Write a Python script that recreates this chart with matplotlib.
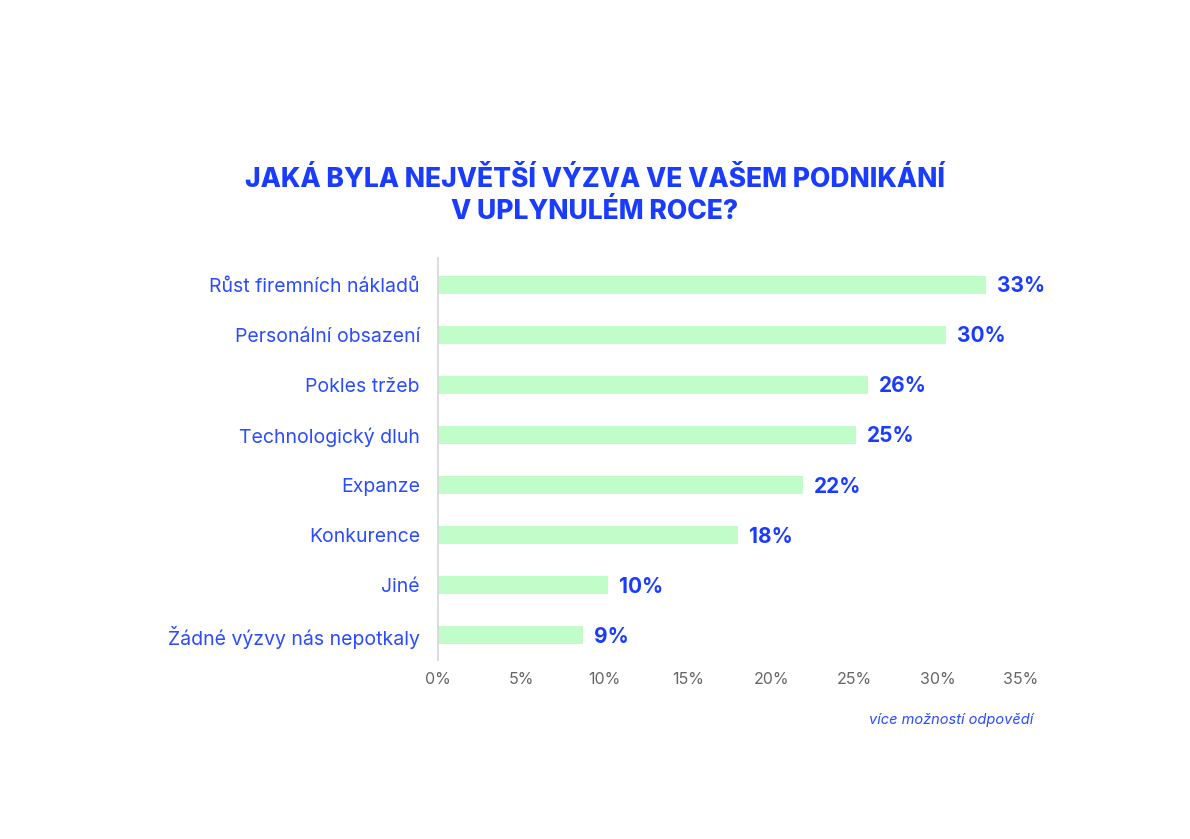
import matplotlib.pyplot as plt

plt.rcParams['font.family'] = ['Inter', 'DejaVu Sans']

categories = ["Růst firemních nákladů", "Personální obsazení", "Pokles tržeb",
              "Technologický dluh", "Expanze", "Konkurence", "Jiné",
              "Žádné výzvy nás nepotkaly"]
values = [32.9, 30.5, 25.8, 25.1, 21.9, 18.0, 10.2, 8.7]
value_labels = ["33%", "30%", "26%", "25%", "22%", "18%", "10%", "9%"]
ticks = [0, 5, 10, 15, 20, 25, 30, 35]

blue = "#1a3cff"
green = "#c0fdc8"

fig = plt.figure(figsize=(11.9, 8.39), dpi=100)
ax = fig.add_axes([438 / 1190, 1 - 660 / 839, (1021 - 438) / 1190, (660 - 258) / 839])

y = list(range(len(categories)))
ax.barh(y, values, height=0.36, color=green)
for yi, v, lab in zip(y, values, value_labels):
    ax.text(v + 0.65, yi + 0.03, lab, va='center', ha='left', color=blue,
            fontsize=15, fontweight='bold')

ax.set_ylim(7.5, -0.54)
ax.set_xlim(0, 35)
ax.set_yticks(y)
ax.set_yticklabels(categories, color="#2a4bff", fontsize=14)
ax.set_xticks(ticks)
ax.set_xticklabels([f"{t}%" for t in ticks], color="#666666", fontsize=11.5)
ax.tick_params(axis='both', length=0)
ax.tick_params(axis='y', pad=13)
ax.tick_params(axis='x', pad=9)
for s in ['top', 'right', 'bottom']:
    ax.spines[s].set_visible(False)
ax.spines['left'].set_color("#d6d6d6")
ax.spines['left'].set_linewidth(1.2)

fig.text(595 / 1190, 1 - 196 / 839, "JAKÁ BYLA NEJVĚTŠÍ VÝZVA VE VAŠEM PODNIKÁNÍ\nV UPLYNULÉM ROCE?",
         ha='center', va='center', color=blue, fontsize=19, fontweight='heavy',
         linespacing=1.3)
fig.text(1033 / 1190, 1 - 720 / 839, "více možností odpovědí", ha='right', va='center',
         color="#2a4bff", fontsize=10.5, style='italic')

fig.savefig("out.png", dpi=100, facecolor='white')
